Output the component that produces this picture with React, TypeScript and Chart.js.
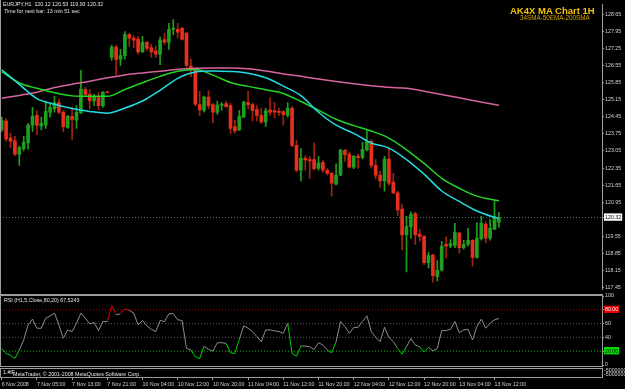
import React, { useEffect, useRef } from "react";
import { Chart, registerables } from "chart.js";
Chart.register(...registerables);

// ---- candle data (EURJPY, H1) ----
const opens = [
  123.91, 124.28, 123.58, 123.48, 122.92, 123.15, 123.38, 124.11, 124.51, 124.07,
  124.11, 124.64, 124.77, 125.04, 124.64, 124.02, 124.47, 124.31, 124.61, 125.57,
  125.37, 125.10, 125.24, 124.91, 125.47, 126.89, 127.31, 126.82, 126.96, 127.82,
  127.68, 127.64, 127.11, 127.51, 127.29, 127.15, 127.02, 127.62, 127.51, 128.04,
  128.04, 128.08, 127.88, 126.53, 126.36, 124.95, 124.71, 125.26, 124.95, 124.64,
  124.92, 124.99, 124.91, 124.05, 123.91, 124.44, 125.04, 124.95, 124.75, 124.51,
  124.24, 124.73, 124.71, 124.68, 124.67, 124.51, 124.80, 123.28, 122.26, 122.76,
  122.70, 122.70, 122.35, 122.59, 122.26, 122.13, 121.69, 122.06, 123.08, 122.92,
  122.39, 122.83, 122.79, 123.09, 123.45, 122.46, 122.06, 121.82, 122.72, 121.77,
  121.33, 120.67, 119.62, 119.95, 120.48, 119.64, 119.55, 118.47, 118.78, 117.90,
  118.16, 119.22, 119.15, 119.18, 119.68, 119.09, 119.22, 119.39, 118.69, 119.45,
  120.05, 119.48, 119.84, 120.12,
];
const highs = [
  124.44, 124.38, 123.78, 123.65, 123.25, 123.65, 124.18, 124.84, 124.71, 124.44,
  125.10, 124.97, 125.30, 125.17, 124.71, 124.51, 124.84, 124.91, 126.36, 125.66,
  125.57, 125.37, 125.44, 125.50, 125.48, 127.38, 127.38, 127.22, 127.95, 127.88,
  127.78, 127.75, 127.75, 127.55, 127.42, 127.35, 127.72, 127.88, 128.28, 128.44,
  128.28, 128.12, 127.91, 126.82, 126.43, 125.50, 125.30, 125.53, 125.00, 125.10,
  125.04, 125.10, 125.00, 124.31, 124.71, 125.10, 125.50, 125.00, 124.91, 124.81,
  124.80, 125.24, 125.04, 124.81, 124.71, 125.04, 124.87, 123.49, 123.15, 122.86,
  122.83, 123.38, 122.83, 122.66, 122.33, 122.19, 122.52, 123.12, 123.12, 123.01,
  122.86, 122.92, 123.41, 123.89, 123.52, 122.70, 122.22, 122.83, 123.19, 122.13,
  121.40, 120.87, 120.37, 120.54, 120.54, 119.84, 119.58, 118.89, 118.82, 118.56,
  119.35, 119.52, 119.42, 120.08, 119.71, 119.39, 119.88, 119.42, 120.10, 120.37,
  120.15, 120.24, 121.00, 120.53,
];
const lows = [
  123.85, 123.45, 123.19, 122.86, 122.46, 123.05, 123.12, 123.85, 123.72, 123.91,
  123.98, 124.44, 124.64, 124.58, 123.85, 123.98, 123.52, 123.98, 124.58, 125.26,
  124.77, 124.91, 124.73, 124.84, 125.43, 126.76, 126.16, 126.56, 126.82, 127.35,
  127.29, 127.02, 127.09, 127.15, 126.89, 126.89, 126.59, 127.42, 127.22, 127.82,
  127.68, 127.59, 126.49, 126.10, 124.91, 124.51, 124.64, 124.77, 124.20, 124.55,
  124.71, 124.84, 123.76, 123.78, 123.89, 124.42, 124.77, 124.28, 124.28, 124.18,
  124.05, 124.51, 124.42, 124.51, 124.11, 124.44, 123.23, 122.19, 121.82, 122.26,
  121.93, 122.26, 122.26, 122.17, 122.06, 121.20, 121.66, 122.04, 122.62, 122.35,
  122.33, 122.35, 122.72, 123.05, 122.35, 121.90, 121.56, 121.40, 121.64, 121.30,
  120.41, 118.99, 118.09, 119.48, 119.22, 119.35, 118.39, 118.25, 117.67, 117.72,
  118.12, 118.65, 119.09, 119.09, 118.86, 119.02, 119.15, 118.33, 118.65, 119.39,
  119.28, 119.39, 119.82, 119.93,
];
const closes = [
  124.31, 123.54, 123.45, 122.92, 123.19, 123.41, 124.11, 124.47, 124.11, 124.18,
  124.68, 124.84, 125.04, 124.64, 124.05, 124.47, 124.34, 124.64, 125.59, 125.37,
  125.10, 125.26, 124.91, 125.46, 125.45, 127.31, 126.80, 126.96, 127.82, 127.68,
  127.59, 127.11, 127.51, 127.26, 127.11, 127.02, 127.59, 127.51, 128.04, 128.08,
  127.92, 127.62, 126.56, 126.40, 124.97, 124.73, 125.26, 124.91, 124.64, 124.93,
  124.97, 124.87, 123.98, 123.87, 124.47, 125.06, 124.95, 124.71, 124.51, 124.24,
  124.71, 124.64, 124.64, 124.63, 124.54, 124.81, 123.28, 122.26, 122.75, 122.68,
  122.64, 122.33, 122.56, 122.26, 122.13, 121.73, 122.06, 123.09, 122.90, 122.39,
  122.83, 122.78, 123.12, 123.45, 122.46, 122.06, 121.82, 122.72, 121.73, 121.33,
  120.63, 119.61, 119.95, 120.45, 119.62, 119.55, 118.47, 118.76, 117.94, 118.16,
  119.15, 119.15, 119.25, 119.71, 119.09, 119.22, 119.39, 118.69, 119.48, 120.08,
  119.48, 119.88, 120.34, 120.32,
];

// ---- moving averages, read at these bar indices ----
const maIndex = [0, 4, 8, 12, 16, 20, 24, 28, 32, 36, 40, 44, 48, 52, 56, 60, 64, 68, 72, 76, 80, 84, 88, 92, 96, 100, 104, 108, 112, 113];
const sma34 = [126.38, 125.78, 125.20, 124.97, 124.79, 124.67, 124.60, 124.81, 125.10, 125.54, 126.03, 126.29, 126.33, 126.31, 126.24, 126.05, 125.71, 125.32, 124.64, 124.11, 123.77, 123.38, 123.17, 122.70, 122.10, 121.41, 120.98, 120.59, 120.33, 120.28];
const ema50 = [126.30, 125.84, 125.62, 125.44, 125.31, 125.29, 125.29, 125.57, 125.85, 126.11, 126.32, 126.39, 126.16, 125.86, 125.70, 125.56, 125.41, 125.08, 124.72, 124.35, 124.09, 123.87, 123.58, 123.10, 122.54, 121.93, 121.52, 121.20, 121.04, 121.01];
const sma200 = [125.21, 125.33, 125.46, 125.65, 125.79, 125.91, 126.05, 126.17, 126.25, 126.32, 126.40, 126.44, 126.45, 126.45, 126.42, 126.33, 126.21, 126.11, 126.00, 125.90, 125.81, 125.73, 125.66, 125.62, 125.50, 125.37, 125.23, 125.09, 124.96, 124.93];

// ---- RSI(5) ----
const rsiValues = [
  24.0, 16.7, 14.2, 9.4, 21.6, 36.2, 58.2, 66.5, 53.3, 53.3,
  67.9, 71.3, 75.2, 58.2, 38.6, 50.8, 48.4, 60.6, 75.2, 67.9,
  59.6, 61.6, 49.9, 63.0, 63.0, 86.0, 72.8, 74.3, 81.1, 79.1,
  75.2, 58.2, 64.5, 56.7, 51.8, 48.4, 64.5, 63.0, 74.3, 74.3,
  65.5, 64.5, 24.0, 21.6, 11.8, 9.4, 27.4, 22.5, 20.1, 32.3,
  32.3, 31.3, 17.7, 16.7, 37.2, 56.7, 53.3, 48.4, 41.1, 33.8,
  50.8, 50.8, 49.4, 48.4, 45.9, 60.6, 16.7, 12.8, 27.4, 27.4,
  26.4, 22.5, 32.3, 28.9, 21.6, 17.7, 33.8, 63.0, 55.7, 45.9,
  54.2, 54.7, 63.0, 71.3, 48.4, 40.1, 33.8, 54.7, 40.1, 33.8,
  24.0, 15.7, 26.4, 38.6, 28.9, 26.4, 19.1, 25.5, 20.6, 24.0,
  49.9, 49.9, 51.8, 63.0, 46.9, 50.8, 51.8, 36.2, 55.7, 66.5,
  53.3, 60.6, 65.5, 67.52,
];

// ---- axes ----
const priceTicks = [128.65, 127.95, 127.25, 126.55, 125.85, 125.15, 124.45, 123.75, 123.05, 122.35, 121.65, 120.95, 119.55, 118.85, 118.15, 117.45];
const currentPrice = 120.32;
const rsiTicks = [100, 80, 60, 40, 20, 0];
const rsiTickLabels = ["100", "80.00", "60", "40", "20.00", "0"];
const rsiLevels = [80, 60, 40, 20];
const timeTickIndex = [0, 8, 16, 24, 32, 40, 48, 56, 64, 72, 80, 88, 96, 104, 112];
const timeTickLabels = [
  "6 Nov 2008", "7 Nov 05:00", "7 Nov 13:00", "7 Nov 21:00", "10 Nov 04:00",
  "10 Nov 12:00", "10 Nov 20:00", "11 Nov 04:00", "11 Nov 12:00", "11 Nov 20:00",
  "12 Nov 04:00", "12 Nov 12:00", "12 Nov 20:00", "13 Nov 04:00", "13 Nov 12:00",
];

const X_MIN = -0.386;
const X_MAX = 136.43;
const PRICE_MAX = 129.07;
const PRICE_MIN = 117.357;

const FONT = "'Liberation Sans', Arial, sans-serif";
const SMALL = 5.3;
const AXIS_TEXT = "#d2d2d2";
const FRAME = "#9c9c9c";
const BULL = "#1f9f1f";
const BEAR = "#e6301b";
const BEAR_WICK = "#a3230f";

const isBull = (i: number) => closes[i] >= opens[i];

export default function App() {
  const mainRef = useRef<HTMLCanvasElement>(null);
  const rsiRef = useRef<HTMLCanvasElement>(null);
  const volRef = useRef<HTMLCanvasElement>(null);

  useEffect(() => {
    document.body.style.margin = "0";
    document.body.style.background = "#000";
    const charts: Chart[] = [];
    const idx = opens.map((_, i) => i);
    const smallFont = { family: FONT, size: SMALL };

    charts.push(
      new Chart(mainRef.current as HTMLCanvasElement, {
        type: "bar",
        data: {
          datasets: [
            {
              type: "line",
              label: "34SMA",
              data: maIndex.map((x, k) => ({ x, y: sma34[k] })),
              borderColor: "#22dbe2",
              borderWidth: 1.5,
              pointRadius: 0,
              cubicInterpolationMode: "monotone",
            },
            {
              type: "line",
              label: "50EMA",
              data: maIndex.map((x, k) => ({ x, y: ema50[k] })),
              borderColor: "#24d424",
              borderWidth: 1.5,
              pointRadius: 0,
              cubicInterpolationMode: "monotone",
            },
            {
              type: "line",
              label: "200SMA",
              data: maIndex.map((x, k) => ({ x, y: sma200[k] })),
              borderColor: "#d8649e",
              borderWidth: 1.5,
              pointRadius: 0,
              cubicInterpolationMode: "monotone",
            },
            {
              type: "line",
              label: "Bid",
              data: [
                { x: X_MIN, y: currentPrice },
                { x: X_MAX, y: currentPrice },
              ],
              borderColor: "#5e765e",
              borderWidth: 1,
              borderDash: [1, 2],
              pointRadius: 0,
            },
            {
              type: "bar",
              label: "body",
              data: idx.map((i) => ({ x: i, y: [opens[i], closes[i]] })),
              backgroundColor: (ctx: any) => (isBull(ctx.dataIndex) ? BULL : BEAR),
              barThickness: 3,
              grouped: false,
              minBarLength: 1,
            },
            {
              type: "bar",
              label: "wick",
              data: idx.map((i) => ({ x: i, y: [lows[i], highs[i]] })),
              backgroundColor: (ctx: any) => (isBull(ctx.dataIndex) ? BULL : BEAR_WICK),
              barThickness: 1,
              grouped: false,
            },
          ] as any,
        },
        options: {
          responsive: false,
          animation: false,
          devicePixelRatio: 1,
          layout: { padding: 0 },
          plugins: { legend: { display: false }, tooltip: { enabled: false } },
          scales: {
            x: { type: "linear", min: X_MIN, max: X_MAX, display: false, offset: false },
            y: {
              position: "right",
              min: PRICE_MIN,
              max: PRICE_MAX,
              afterFit: (s: any) => {
                s.width = 23;
              },
              afterBuildTicks: (s: any) => {
                s.ticks = [...priceTicks, currentPrice].map((v) => ({ value: v }));
              },
              grid: { drawOnChartArea: false, drawTicks: true, tickLength: 2, color: FRAME },
              border: { color: FRAME },
              ticks: {
                font: smallFont,
                padding: 1,
                color: (ctx: any) => (ctx.tick && ctx.tick.value === currentPrice ? "#000" : AXIS_TEXT),
                showLabelBackdrop: (ctx: any) => !!ctx.tick && ctx.tick.value === currentPrice,
                backdropColor: "#ffffff",
                backdropPadding: { top: 1, bottom: 0, left: 1, right: 1 },
                callback: (v: any) => Number(v).toFixed(2),
              },
            },
          },
        } as any,
      })
    );

    charts.push(
      new Chart(rsiRef.current as HTMLCanvasElement, {
        type: "line",
        data: {
          datasets: [
            {
              label: "RSI",
              data: idx.map((i) => ({ x: i, y: rsiValues[i] })),
              borderColor: "#8e8e8e",
              borderWidth: 1,
              pointRadius: 0,
              segment: {
                borderColor: (ctx: any) => {
                  const a = ctx.p0.parsed.y;
                  const b = ctx.p1.parsed.y;
                  if (Math.max(a, b) > 80) return "#e00000";
                  if (Math.min(a, b) < 20) return "#00d000";
                  return "#8e8e8e";
                },
              },
            },
            ...rsiLevels.map((lv) => ({
              label: "level " + lv,
              data: [
                { x: X_MIN, y: lv },
                { x: X_MAX, y: lv },
              ],
              borderColor: lv === 80 ? "#c00000" : lv === 20 ? "#00b000" : "#5a5a5a",
              borderWidth: 1,
              borderDash: [1, 2],
              pointRadius: 0,
            })),
          ] as any,
        },
        options: {
          responsive: false,
          animation: false,
          devicePixelRatio: 1,
          layout: { padding: { top: 6, bottom: 5, left: 0, right: 0 } },
          plugins: { legend: { display: false }, tooltip: { enabled: false } },
          scales: {
            x: { type: "linear", min: X_MIN, max: X_MAX, display: false, offset: false },
            y: {
              position: "right",
              min: 0,
              max: 100,
              afterFit: (s: any) => {
                s.width = 23;
              },
              afterBuildTicks: (s: any) => {
                s.ticks = rsiTicks.map((v) => ({ value: v }));
              },
              grid: { drawOnChartArea: false, drawTicks: true, tickLength: 2, color: FRAME },
              border: { color: FRAME },
              ticks: {
                font: smallFont,
                padding: 1,
                color: (ctx: any) => {
                  const v = ctx.tick ? ctx.tick.value : null;
                  if (v === 80) return "#ffffff";
                  if (v === 20) return "#000000";
                  return AXIS_TEXT;
                },
                showLabelBackdrop: (ctx: any) => !!ctx.tick && (ctx.tick.value === 80 || ctx.tick.value === 20),
                backdropColor: (ctx: any) => (ctx.tick && ctx.tick.value === 80 ? "#e00000" : "#00e000"),
                backdropPadding: { top: 1, bottom: 0, left: 1, right: 1 },
                callback: (v: any) => rsiTickLabels[rsiTicks.indexOf(Number(v))],
              },
            },
          },
        } as any,
      })
    );

    charts.push(
      new Chart(volRef.current as HTMLCanvasElement, {
        type: "line",
        data: { datasets: [] },
        options: {
          responsive: false,
          animation: false,
          devicePixelRatio: 1,
          layout: { padding: 0 },
          plugins: { legend: { display: false }, tooltip: { enabled: false } },
          scales: {
            x: {
              type: "linear",
              min: X_MIN,
              max: X_MAX,
              offset: false,
              afterFit: (s: any) => {
                s.height = 12;
              },
              afterBuildTicks: (s: any) => {
                s.ticks = timeTickIndex.map((v) => ({ value: v }));
              },
              grid: { drawOnChartArea: false, drawTicks: true, tickLength: 3, color: FRAME },
              border: { color: FRAME },
              ticks: {
                font: smallFont,
                color: AXIS_TEXT,
                padding: 1,
                autoSkip: false,
                maxRotation: 0,
                align: "start",
                callback: (v: any) => timeTickLabels[timeTickIndex.indexOf(Number(v))],
              },
            },
            y: {
              position: "right",
              min: 0,
              max: 1,
              afterFit: (s: any) => {
                s.width = 23;
              },
              grid: { display: false },
              border: { color: FRAME },
              ticks: { display: false },
            },
          },
        } as any,
      })
    );

    return () => charts.forEach((c) => c.destroy());
  }, []);

  const txt = (
    left: number,
    top: number,
    s: string,
    extra: React.CSSProperties = {}
  ) => (
    <div
      style={{
        position: "absolute",
        left,
        top,
        fontFamily: FONT,
        fontSize: SMALL,
        lineHeight: 1,
        color: "#e6e6e6",
        whiteSpace: "pre",
        ...extra,
      }}
    >
      {s}
    </div>
  );

  const line = (left: number, top: number, width: number, height: number) => (
    <div style={{ position: "absolute", left, top, width, height, background: FRAME }} />
  );

  return (
    <div
      style={{
        position: "fixed",
        left: 0,
        top: 0,
        width: 625,
        height: 389,
        background: "#000",
        overflow: "hidden",
      }}
    >
      <canvas ref={mainRef} width={625} height={294} style={{ position: "absolute", left: 0, top: 0 }} />
      <canvas ref={rsiRef} width={625} height={80} style={{ position: "absolute", left: 0, top: 290 }} />
      <canvas ref={volRef} width={625} height={21} style={{ position: "absolute", left: 0, top: 368 }} />

      {line(0, 0, 1, 294)}
      {line(0, 294, 603, 1)}
      {line(0, 295, 603, 1)}
      {line(0, 295, 1, 71)}
      {line(0, 366, 603, 1)}
      {line(0, 368, 603, 1)}
      {line(0, 368, 1, 9)}

      {txt(3, 1.8, "EURJPY,H1  120.12 120.53 119.93 120.32")}
      {txt(4, 8.5, "Time for next bar: 13 min 51 sec")}
      {txt(510, 6, "AK4X MA Chart 1H", { fontSize: 9.5, fontWeight: "bold", color: "#f2c200" })}
      {txt(520, 15.4, "34SMA-50EMA-200SMA", { fontSize: 6.3, color: "#d9a400" })}
      {txt(4, 297.5, "RSI (H1,5,Close,80,20) 67.5243")}
      {txt(3, 369.5, "1.#IF")}
      {txt(13, 372, "MetaTrader, © 2001-2008 MetaQuotes Software Corp.")}
      {txt(604, 367.5, "-5000000", { color: AXIS_TEXT })}
      {txt(604, 371.5, "-5000000", { color: AXIS_TEXT })}
    </div>
  );
}
